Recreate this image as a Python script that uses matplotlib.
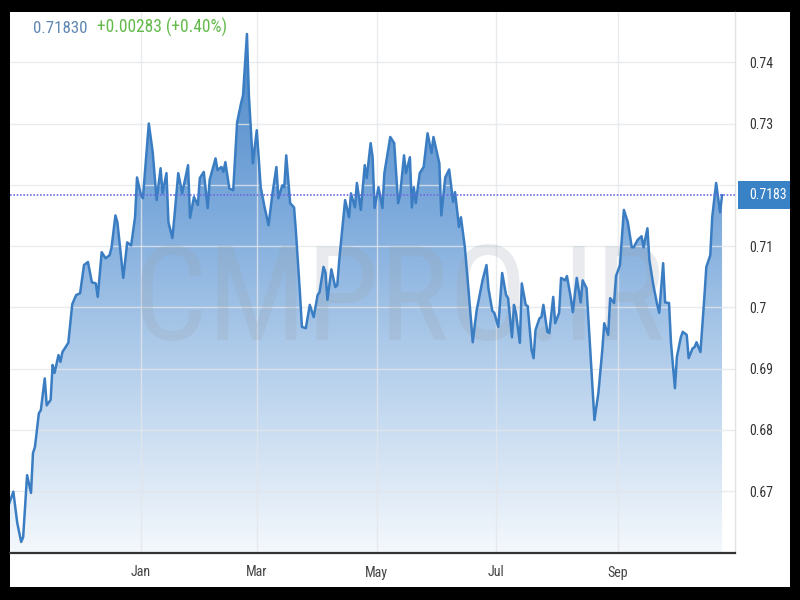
import matplotlib
matplotlib.use("Agg")
import matplotlib.pyplot as plt
import matplotlib.dates as mdates
import matplotlib.transforms as mtransforms
from matplotlib.patches import Rectangle, Polygon
from matplotlib.colors import LinearSegmentedColormap
from matplotlib import font_manager
from matplotlib.font_manager import FontProperties
import numpy as np
import pandas as pd

# ---------------- data ----------------
dates = [
    "2016-10-26", "2016-10-28", "2016-10-30",
    "2016-11-01", "2016-11-02", "2016-11-04", "2016-11-06", "2016-11-07", "2016-11-08", "2016-11-10",
    "2016-11-11", "2016-11-13", "2016-11-14", "2016-11-16", "2016-11-17", "2016-11-18", "2016-11-20",
    "2016-11-21", "2016-11-22", "2016-11-25", "2016-11-27", "2016-11-29",
    "2016-12-01", "2016-12-03", "2016-12-05", "2016-12-07", "2016-12-09", "2016-12-10", "2016-12-12",
    "2016-12-14", "2016-12-16", "2016-12-17", "2016-12-19", "2016-12-20", "2016-12-23", "2016-12-25",
    "2016-12-27", "2016-12-29", "2016-12-30",
    "2017-01-01", "2017-01-02", "2017-01-05", "2017-01-07", "2017-01-09", "2017-01-11", "2017-01-12",
    "2017-01-14", "2017-01-15", "2017-01-17", "2017-01-18", "2017-01-20", "2017-01-22", "2017-01-25",
    "2017-01-26", "2017-01-28", "2017-01-30", "2017-01-31",
    "2017-02-02", "2017-02-04", "2017-02-05", "2017-02-08", "2017-02-09", "2017-02-11", "2017-02-12",
    "2017-02-13", "2017-02-15", "2017-02-17", "2017-02-19", "2017-02-21", "2017-02-22", "2017-02-24",
    "2017-02-25", "2017-02-27",
    "2017-03-01", "2017-03-03", "2017-03-05", "2017-03-07", "2017-03-09", "2017-03-11", "2017-03-12",
    "2017-03-14", "2017-03-15", "2017-03-16", "2017-03-18", "2017-03-20", "2017-03-21", "2017-03-23",
    "2017-03-24", "2017-03-26", "2017-03-28", "2017-03-30",
    "2017-04-01", "2017-04-02", "2017-04-04", "2017-04-05", "2017-04-06", "2017-04-08", "2017-04-10",
    "2017-04-11", "2017-04-12", "2017-04-14", "2017-04-15", "2017-04-17", "2017-04-18", "2017-04-20",
    "2017-04-21", "2017-04-23", "2017-04-25", "2017-04-26", "2017-04-28", "2017-04-29", "2017-04-30",
    "2017-05-02", "2017-05-04", "2017-05-05", "2017-05-08", "2017-05-10", "2017-05-12", "2017-05-13",
    "2017-05-15", "2017-05-16", "2017-05-18", "2017-05-19", "2017-05-20", "2017-05-21", "2017-05-23",
    "2017-05-25", "2017-05-27", "2017-05-29", "2017-05-30",
    "2017-06-02", "2017-06-03", "2017-06-05", "2017-06-07", "2017-06-09", "2017-06-10", "2017-06-12",
    "2017-06-13", "2017-06-15", "2017-06-17", "2017-06-19", "2017-06-21", "2017-06-24", "2017-06-26",
    "2017-06-27", "2017-06-29", "2017-06-30",
    "2017-07-02", "2017-07-04", "2017-07-06", "2017-07-07", "2017-07-09", "2017-07-10", "2017-07-11",
    "2017-07-13", "2017-07-14", "2017-07-16", "2017-07-17", "2017-07-19", "2017-07-20", "2017-07-21",
    "2017-07-23", "2017-07-24", "2017-07-25", "2017-07-27", "2017-07-28", "2017-07-30", "2017-07-31",
    "2017-08-02", "2017-08-03", "2017-08-05", "2017-08-06", "2017-08-08", "2017-08-09", "2017-08-11",
    "2017-08-13", "2017-08-14", "2017-08-16", "2017-08-18", "2017-08-20", "2017-08-22", "2017-08-24",
    "2017-08-25", "2017-08-27", "2017-08-28", "2017-08-30", "2017-08-31",
    "2017-09-02", "2017-09-04", "2017-09-06", "2017-09-08", "2017-09-09", "2017-09-11", "2017-09-13",
    "2017-09-14", "2017-09-16", "2017-09-17", "2017-09-19", "2017-09-21", "2017-09-22", "2017-09-24",
    "2017-09-25", "2017-09-27", "2017-09-28", "2017-09-30",
    "2017-10-01", "2017-10-03", "2017-10-04", "2017-10-06", "2017-10-07", "2017-10-09", "2017-10-10",
    "2017-10-11", "2017-10-13", "2017-10-15", "2017-10-16", "2017-10-18", "2017-10-19", "2017-10-21",
    "2017-10-23", "2017-10-24",
]

values = [
    0.6681, 0.6699, 0.6648,
    0.6617, 0.6625, 0.6726, 0.6697, 0.6762, 0.6772, 0.6827,
    0.6832, 0.6884, 0.6840, 0.6849, 0.6906, 0.6893, 0.6922,
    0.6911, 0.6927, 0.6942, 0.7005, 0.7020,
    0.7023, 0.7069, 0.7074, 0.7041, 0.7039, 0.7017, 0.7090,
    0.7080, 0.7085, 0.7097, 0.7150, 0.7139, 0.7048, 0.7106,
    0.7101, 0.7147, 0.7212,
    0.7183, 0.7178, 0.7300, 0.7253, 0.7175, 0.7227, 0.7186,
    0.7219, 0.7139, 0.7113, 0.7146, 0.7219, 0.7186, 0.7232,
    0.7146, 0.7180, 0.7167, 0.7211,
    0.7221, 0.7162, 0.7208, 0.7243, 0.7224, 0.7229, 0.7221,
    0.7237, 0.7194, 0.7191, 0.7302, 0.7333, 0.7346, 0.7446,
    0.7345, 0.7235,
    0.7289, 0.7196, 0.7163, 0.7134, 0.7186, 0.7229, 0.7178,
    0.7199, 0.7196, 0.7248, 0.7170, 0.7163, 0.7121, 0.7023,
    0.6968, 0.6966, 0.7004, 0.6984,
    0.7020, 0.7025, 0.7066, 0.7057, 0.7012, 0.7062, 0.7033,
    0.7036, 0.7077, 0.7142, 0.7175, 0.7147, 0.7186, 0.7163,
    0.7203, 0.7159, 0.7232, 0.7211, 0.7268, 0.7245, 0.7162,
    0.7196, 0.7162, 0.7219, 0.7278, 0.7268, 0.7170, 0.7183,
    0.7248, 0.7219, 0.7245, 0.7163, 0.7196, 0.7170, 0.7219,
    0.7229, 0.7284, 0.7252, 0.7278,
    0.7235, 0.7150, 0.7212, 0.7225, 0.7172, 0.7188, 0.7131,
    0.7147, 0.7098, 0.7023, 0.6943, 0.6995, 0.7044, 0.7069,
    0.7031, 0.6994, 0.6991,
    0.6968, 0.7056, 0.7020, 0.7015, 0.6951, 0.7004, 0.6991,
    0.6942, 0.7039, 0.7004, 0.7002, 0.6930, 0.6917, 0.6963,
    0.6982, 0.6984, 0.7004, 0.6960, 0.6958, 0.7017, 0.6974,
    0.6991, 0.7048, 0.7044, 0.7051, 0.7015, 0.6992, 0.7048,
    0.7008, 0.7044, 0.7031, 0.6922, 0.6816, 0.6860, 0.6930,
    0.6974, 0.6955, 0.7015, 0.7007, 0.7051,
    0.7069, 0.7159, 0.7139, 0.7098, 0.7098, 0.7110, 0.7116,
    0.7098, 0.7129, 0.7077, 0.7036, 0.7004, 0.6991, 0.7072,
    0.7008, 0.7007, 0.6942, 0.6868,
    0.6919, 0.6951, 0.6960, 0.6955, 0.6917, 0.6933, 0.6935,
    0.6943, 0.6927, 0.7017, 0.7066, 0.7085, 0.7147, 0.7203,
    0.7155, 0.7183,
]

last_value = 0.7183
last_label = "0.7183"
header_price = "0.71830"
header_change = "+0.00283 (+0.40%)"
y_ticks = [0.67, 0.68, 0.69, 0.70, 0.71, 0.72, 0.73, 0.74]
month_ticks = ["2017-01-01", "2017-03-01", "2017-05-01", "2017-07-01", "2017-09-01"]
month_labels = ["Jan", "Mar", "May", "Jul", "Sep"]
watermark = "CMPRO.IR"

# ---------------- fonts ----------------
def pick_font():
    prefs = ["Liberation Sans Narrow", "Arial Narrow", "Roboto Condensed",
             "Asap Condensed", "Liberation Sans"]
    for p in prefs:
        for f in font_manager.fontManager.ttflist:
            if f.name == p and f.style == "normal" and f.weight in (400, "normal", "regular"):
                return f.fname
    return None

font_path = pick_font()

def fp(size=10):
    if font_path:
        return FontProperties(fname=font_path, size=size)
    return FontProperties(family=["Liberation Sans", "DejaVu Sans"], size=size)

# ---------------- figure ----------------
W, H = 800, 600
fig = plt.figure(figsize=(8, 6), dpi=100, facecolor="black")
fig.patches.append(Rectangle((10 / W, 13 / H), 780 / W, 575 / H, transform=fig.transFigure,
                             facecolor="white", edgecolor="none", zorder=-5))
renderer = fig.canvas.get_renderer()

def size_for(text, target_px):
    probe = fig.text(0, 0, text, fontproperties=fp(20))
    w = probe.get_window_extent(renderer=renderer).width
    probe.remove()
    return 20 * target_px / w

ax = fig.add_axes([10 / W, 47 / H, 725 / W, 541 / H])
ax.set_facecolor("white")

dts = pd.to_datetime(dates)
xn = mdates.date2num(dts)
ymin, ymax = 0.6599, 0.7482
jan1 = mdates.date2num(pd.Timestamp("2017-01-01"))
ax.set_xlim(jan1 - 66.7, jan1 + 302.6)
ax.set_ylim(ymin, ymax)

# gradient fill under the line
verts = [(xn[0], ymin)] + list(zip(xn, values)) + [(xn[-1], ymin)]
poly = Polygon(verts, closed=True, facecolor="none", edgecolor="none")
ax.add_patch(poly)
cmap = LinearSegmentedColormap.from_list(
    "fillgrad", [(0.0, "#f4f8fc"), (0.35, "#b6d0ec"), (0.65, "#7eabdc"), (1.0, "#4d88c8")])
grad = np.linspace(0, 1, 256).reshape(-1, 1)
im = ax.imshow(grad, extent=[xn[0], xn[-1], ymin, max(values)], origin="lower",
               cmap=cmap, aspect="auto", zorder=1, interpolation="bilinear")
im.set_clip_path(poly)

# line
ax.plot(dts, values, color="#3a7dc2", lw=1.8, zorder=3, solid_joinstyle="round")

# watermark (baseline at y=340 px, spanning x 133..665)
ax.text((399 - 10) / 725, (553 - 340) / 541, watermark, transform=ax.transAxes,
        ha="center", va="baseline", fontproperties=fp(size_for(watermark, 532)),
        color="#9aa3ad", alpha=0.22, zorder=2.2)

# last value dotted line
ax.axhline(last_value, color="#6c6ce0", lw=1.2, ls=(0, (1, 1)), zorder=4)

# grid / ticks
ax.set_axisbelow("line")
ax.set_xticks(mdates.date2num(pd.to_datetime(month_ticks)))
ax.set_xticklabels(month_labels)
ax.set_yticks(y_ticks)
ax.set_yticklabels(["" if abs(t - last_value) < 0.003 else f"{t:g}" for t in y_ticks])
ax.grid(True, color="#e4e6ea", lw=1, alpha=0.8)

ax.yaxis.tick_right()
ax.tick_params(axis="y", length=0, pad=10, labelcolor="#333333")
ax.tick_params(axis="x", length=0, pad=9, labelcolor="#444444")
ytick_size = size_for("0.74", 24)
xtick_size = size_for("May", 23)
for lab in ax.get_yticklabels():
    lab.set_fontproperties(fp(ytick_size))
for lab in ax.get_xticklabels():
    lab.set_fontproperties(fp(xtick_size))

for s in ["top", "left"]:
    ax.spines[s].set_visible(False)
ax.spines["bottom"].set_color("#333333")
ax.spines["bottom"].set_linewidth(1.6)
ax.spines["right"].set_color("#e2e2e2")
ax.spines["right"].set_linewidth(1)

# last value label box
blend = mtransforms.blended_transform_factory(ax.transAxes, ax.transData)
box_h = 28 / 6130
ax.add_patch(Rectangle((728 / 725, last_value - box_h / 2), 52 / 725, box_h, transform=blend,
                       facecolor="#3a82c6", edgecolor="none", clip_on=False, zorder=6))
ax.text(739 / 725, last_value, last_label, transform=blend, ha="left", va="center",
        color="white", fontproperties=fp(size_for(last_label, 38)), zorder=7, clip_on=False)

# header (baseline at y=33 px)
hdr_y = (553 - 33) / 541
ax.text(23 / 725, hdr_y, header_price, transform=ax.transAxes, ha="left", va="baseline",
        fontproperties=fp(size_for(header_price, 54)), color="#5f86b3", zorder=8)
ax.text(87 / 725, hdr_y, header_change, transform=ax.transAxes, ha="left", va="baseline",
        fontproperties=fp(size_for(header_change, 131)), color="#64bb4c", zorder=8)

fig.savefig("out.png", dpi=100, facecolor="black")
